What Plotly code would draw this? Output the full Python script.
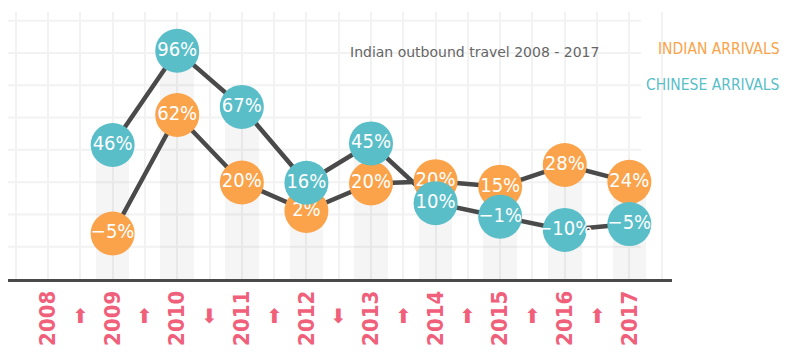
import plotly.graph_objects as go

# ---- data ----
years = ["2008", "2009", "2010", "2011", "2012", "2013", "2014", "2015", "2016", "2017"]
india_growth = [None, -5, 62, 20, 2, 20, 20, 15, 28, 24]
china_growth = [None, 46, 96, 67, 16, 45, 10, -1, -10, -5]
# vertical placement of each circle on the chart (grid units)
india_pos = [None, 1.41, 5.08, 2.99, 2.11, 2.96, 3.03, 2.86, 3.53, 3.01]
china_pos = [None, 4.15, 7.07, 5.33, 2.98, 4.20, 2.35, 1.93, 1.52, 1.70]
trend_arrows = ["up", "up", "down", "up", "down", "up", "up", "up", "up"]

ORANGE = "#FAA34A"
TEAL = "#59BEC8"
PINK = "#F0607A"
DARK = "#4a4a4a"
GRID = "#f2f2f2"
COND = "DejaVu Sans Condensed, sans-serif"

x = list(range(len(years)))

def fmt(v):
    if v is None:
        return ""
    return ("\u2212" + str(abs(v)) if v < 0 else str(v)) + "%"

bar_h = [None if a is None else max(a, b) for a, b in zip(india_pos, china_pos)]

fig = go.Figure()
fig.add_trace(go.Bar(x=x, y=bar_h, width=0.52, marker=dict(color="rgba(0,0,0,0.04)", line=dict(width=0)),
                     hoverinfo="skip", showlegend=False))
for pos in (china_pos, india_pos):
    fig.add_trace(go.Scatter(x=x, y=pos, mode="lines", line=dict(color=DARK, width=4.5),
                             hoverinfo="skip", showlegend=False))
for pos, lab, col in ((india_pos, india_growth, ORANGE), (china_pos, china_growth, TEAL)):
    fig.add_trace(go.Scatter(x=x, y=pos, mode="markers+text", text=[fmt(v) for v in lab],
                             textposition="middle center",
                             textfont=dict(family=COND, size=20, color="white"),
                             marker=dict(size=44, color=col, line=dict(width=0)),
                             hoverinfo="skip", showlegend=False))

# horizontal grid lines
for v in range(1, 9):
    fig.add_shape(type="line", xref="x", yref="y", x0=-0.62, x1=9.18, y0=v, y1=v,
                  line=dict(color=GRID, width=2), layer="below")

# arrows between years
for i, d in enumerate(trend_arrows):
    fig.add_annotation(x=i + 0.5, xref="x", y=-0.139, yref="paper", yanchor="middle",
                       text="\u2B06" if d == "up" else "\u2B07", showarrow=False,
                       font=dict(family="DejaVu Sans", size=20, color=PINK))

fig.add_annotation(x=0.512, xref="paper", xanchor="left", y=0.85, yref="paper", yanchor="middle",
                   text="Indian outbound travel 2008 - 2017", showarrow=False,
                   font=dict(family="DejaVu Sans", size=14, color="#666666"))
fig.add_annotation(x=1.1657, xref="paper", xanchor="right", y=0.861, yref="paper", yanchor="middle",
                   text="INDIAN ARRIVALS", showarrow=False,
                   font=dict(family=COND, size=15.5, color=ORANGE))
fig.add_annotation(x=1.1657, xref="paper", xanchor="right", y=0.727, yref="paper", yanchor="middle",
                   text="CHINESE ARRIVALS", showarrow=False,
                   font=dict(family=COND, size=15.5, color=TEAL))

fig.update_layout(
    width=800, height=364,
    margin=dict(l=0, r=136, t=4, b=93, autoexpand=False),
    paper_bgcolor="white", plot_bgcolor="white",
    bargap=0,
    xaxis=dict(range=[-0.62, 9.66], tickmode="array", tickvals=x, ticktext=years,
               tickangle=-90, tickfont=dict(family=COND, size=22, color=PINK, weight="bold"),
               automargin=False,
               showgrid=True, gridcolor=GRID, gridwidth=2,
               minor=dict(tickvals=[i - 0.5 for i in range(len(years) + 1)], showgrid=True,
                          gridcolor=GRID, gridwidth=2),
               showline=True, linecolor=DARK, linewidth=3, zeroline=False, ticks="", fixedrange=True),
    yaxis=dict(range=[0, 8.27], showgrid=False, zeroline=False, showticklabels=False,
               automargin=False, fixedrange=True),
)

fig.write_html("out.html")
